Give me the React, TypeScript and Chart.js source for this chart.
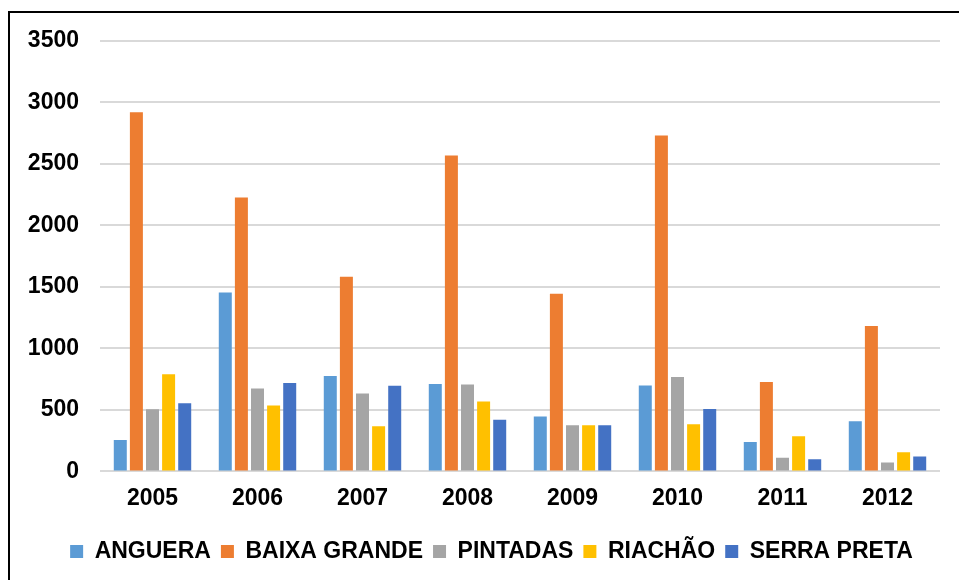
import React, { useEffect, useRef } from "react";
import { Chart, registerables } from "chart.js";

Chart.register(...registerables);

const categories = ["2005", "2006", "2007", "2008", "2009", "2010", "2011", "2012"];
const seriesNames = ["ANGUERA", "BAIXA GRANDE", "PINTADAS", "RIACHÃO", "SERRA PRETA"];
const anguera = [255, 1455, 775, 710, 446, 699, 239, 408];
const baixaGrande = [2920, 2227, 1582, 2569, 1444, 2732, 728, 1183];
const pintadas = [505, 674, 634, 707, 375, 767, 112, 73];
const riachao = [791, 536, 367, 568, 375, 383, 285, 155];
const serraPreta = [555, 718, 696, 419, 375, 508, 98, 122];
const seriesColors = ["#5B9BD5", "#ED7D31", "#A5A5A5", "#FFC000", "#4472C4"];
const yTicks = { min: 0, max: 3500, step: 500 };

const legendShift = {
  id: "legendShift",
  afterLayout(chart: any) {
    if (chart.legend) {
      chart.legend.left += 8;
      chart.legend.right += 8;
    }
  },
};

export default function App() {
  const ref = useRef<HTMLCanvasElement | null>(null);
  useEffect(() => {
    if (!ref.current) return;
    const values = [anguera, baixaGrande, pintadas, riachao, serraPreta];
    const font = { family: "'Liberation Sans', Arial, sans-serif", size: 23, weight: "bold" as const };
    const chart = new Chart(ref.current, {
      type: "bar",
      data: {
        labels: categories,
        datasets: seriesNames.map((name, i) => ({
          label: name,
          data: values[i],
          backgroundColor: seriesColors[i],
          borderWidth: 0,
          categoryPercentage: 0.767,
          barPercentage: 0.807,
        })),
      },
      plugins: [legendShift],
      options: {
        responsive: false,
        animation: false,
        layout: { padding: { top: 28, left: 17, right: 19, bottom: 7 } },
        plugins: {
          tooltip: { enabled: false },
          legend: {
            position: "bottom",
            labels: { boxWidth: 13, boxHeight: 13, padding: 10, color: "#000", font },
          },
        },
        scales: {
          x: {
            grid: { display: false },
            border: { display: false },
            ticks: { color: "#000", font, padding: 5 },
            afterFit: (s: any) => {
              s.height += 13;
            },
          },
          y: {
            min: yTicks.min,
            max: yTicks.max,
            grid: { color: "#d9d9d9", lineWidth: 2, drawTicks: false },
            border: { display: false },
            ticks: {
              stepSize: yTicks.step,
              color: "#000",
              font,
              padding: 21,
              callback: (v: any) => String(v),
            },
            afterFit: (s: any) => {
              s.width = 73;
              s.paddingTop = 0;
              s.paddingBottom = 0;
            },
          },
        },
      },
    });
    return () => chart.destroy();
  }, []);
  return (
    <div
      style={{
        position: "fixed",
        left: 8,
        top: 11,
        borderLeft: "2px solid #000",
        borderTop: "2px solid #000",
        width: 949,
        height: 567,
        background: "#fff",
      }}
    >
      <canvas ref={ref} width={949} height={567} style={{ display: "block" }} />
    </div>
  );
}
